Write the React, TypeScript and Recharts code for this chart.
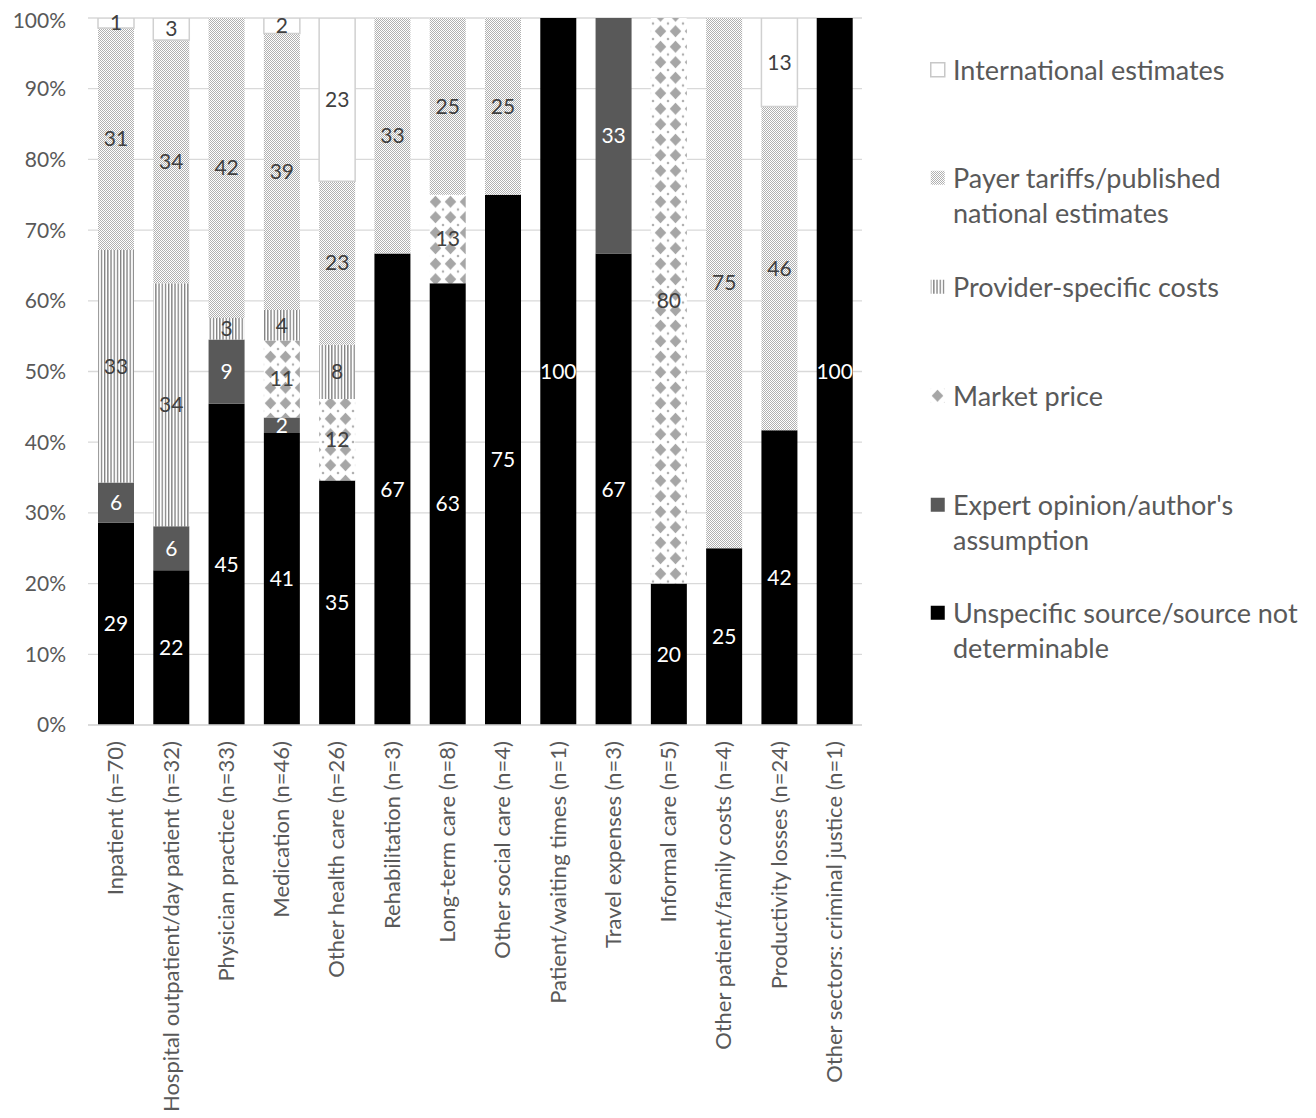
import { BarChart, Bar, XAxis, YAxis, CartesianGrid, LabelList } from 'recharts'

const categories = [
  'Inpatient (n=70)',
  'Hospital outpatient/day patient (n=32)',
  'Physician practice (n=33)',
  'Medication (n=46)',
  'Other health care (n=26)',
  'Rehabilitation (n=3)',
  'Long-term care (n=8)',
  'Other social care (n=4)',
  'Patient/waiting times (n=1)',
  'Travel expenses (n=3)',
  'Informal care (n=5)',
  'Other patient/family costs (n=4)',
  'Productivity losses (n=24)',
  'Other sectors: criminal justice (n=1)',
]

// shares in %, bottom of the stack first
const unspecific = [28.6, 21.9, 45.45, 41.3, 34.6, 66.7, 62.5, 75, 100, 66.7, 20, 25, 41.7, 100]
const expert = [5.7, 6.2, 9.09, 2.2, 0, 0, 0, 0, 0, 33.3, 0, 0, 0, 0]
const market = [0, 0, 0, 10.9, 11.5, 0, 12.5, 0, 0, 0, 80, 0, 0, 0]
const provider = [32.9, 34.4, 3.03, 4.3, 7.7, 0, 0, 0, 0, 0, 0, 0, 0, 0]
const payer = [31.4, 34.4, 42.43, 39.1, 23.1, 33.3, 25, 25, 0, 0, 0, 75, 45.8, 0]
const international = [1.4, 3.1, 0, 2.2, 23.1, 0, 0, 0, 0, 0, 0, 0, 12.5, 0]

const yTicks = [0, 10, 20, 30, 40, 50, 60, 70, 80, 90, 100]

const data = categories.map((name, i) => ({
  name,
  unspecific: unspecific[i],
  expert: expert[i],
  market: market[i],
  provider: provider[i],
  payer: payer[i],
  international: international[i],
}))

const series = [
  { key: 'unspecific', fill: '#000000', text: '#ffffff', stroke: 'none' },
  { key: 'expert', fill: '#595959', text: '#ffffff', stroke: 'none' },
  { key: 'market', fill: 'url(#pat-market)', text: '#404040', stroke: 'none' },
  { key: 'provider', fill: 'url(#pat-provider)', text: '#404040', stroke: 'none' },
  { key: 'payer', fill: 'url(#pat-payer)', text: '#404040', stroke: 'none' },
  { key: 'international', fill: '#ffffff', text: '#404040', stroke: '#d0d0d0' },
]

const legendItems = [
  { label: ['International estimates'], fill: '#ffffff', stroke: '#c8c8c8', top: 44 },
  { label: ['Payer tariffs/published', 'national estimates'], fill: 'url(#pat-payer)', stroke: 'none', top: 152 },
  { label: ['Provider-specific costs'], fill: 'url(#pat-provider)', stroke: 'none', top: 261 },
  { label: ['Market price'], fill: 'url(#pat-market)', stroke: 'none', top: 370 },
  { label: ["Expert opinion/author's", 'assumption'], fill: '#595959', stroke: 'none', top: 479 },
  { label: ['Unspecific source/source not', 'determinable'], fill: '#000000', stroke: 'none', top: 587 },
]

const FONT = 'Lato, "Open Sans", sans-serif'

function Patterns() {
  return (
    <svg width={0} height={0} style={{ position: 'absolute' }}>
      <defs>
        <pattern id="pat-payer" width={2} height={2} patternUnits="userSpaceOnUse">
          <rect width={2} height={2} fill="#ffffff" />
          <rect width={1} height={1} fill="#b0b0b0" />
          <rect x={1} y={1} width={1} height={1} fill="#b0b0b0" />
        </pattern>
        <pattern id="pat-provider" width={3.2} height={4} patternUnits="userSpaceOnUse">
          <rect width={3.2} height={4} fill="#ffffff" />
          <rect width={1.3} height={4} fill="#7f7f7f" />
        </pattern>
        <pattern id="pat-market" width={15} height={15.5} patternUnits="userSpaceOnUse">
          <rect width={15} height={15.5} fill="#ffffff" />
          <path d="M7.5 1.8 L13.3 7.75 L7.5 13.7 L1.7 7.75 Z" fill="#a6a6a6" />
          <path d="M0 0 L1.5 0 L0 1.5 Z M15 0 L13.5 0 L15 1.5 Z M0 15.5 L1.5 15.5 L0 14 Z M15 15.5 L13.5 15.5 L15 14 Z" fill="#a6a6a6" />
        </pattern>
      </defs>
    </svg>
  )
}

function makeLabel(color: string) {
  return (props: any) => {
    const { x, y, width, height, value } = props
    const v = Array.isArray(value) ? value[1] - value[0] : Number(value)
    if (!v) return null
    return (
      <text
        x={x + width / 2}
        y={y + height / 2}
        dy="0.35em"
        textAnchor="middle"
        fill={color}
        fontSize={21}
        fontFamily={FONT}
      >
        {Math.round(v)}
      </text>
    )
  }
}

function CategoryTick(props: any) {
  const { x, y, payload } = props
  return (
    <g transform={`translate(${x},${y + 8}) rotate(-90)`}>
      <text textAnchor="end" dy="0.35em" fill="#595959" fontSize={22} fontFamily={FONT}>
        {payload.value}
      </text>
    </g>
  )
}

export default function App() {
  return (
    <div style={{ position: 'relative', width: 1300, height: 1110, fontFamily: FONT }}>
      <Patterns />
      <BarChart
        width={880}
        height={1110}
        data={data}
        margin={{ top: 10, right: 26, bottom: 3, left: 0 }}
        barSize={36}
      >
        <CartesianGrid vertical={false} stroke="#d9d9d9" strokeWidth={1.3} />
        <XAxis
          dataKey="name"
          interval={0}
          height={390}
          tick={<CategoryTick />}
          tickLine={false}
          axisLine={{ stroke: '#d9d9d9', strokeWidth: 1.3 }}
        />
        <YAxis
          domain={[0, 100]}
          ticks={yTicks}
          width={80}
          tickFormatter={(v: number) => `${v}%`}
          tick={{ fontSize: 21, fill: '#595959', fontFamily: FONT }}
          tickLine={false}
          tickSize={0}
          tickMargin={22}
          axisLine={false}
          allowDataOverflow
        />
        {series.map((s) => (
          <Bar
            key={s.key}
            dataKey={s.key}
            stackId="a"
            fill={s.fill}
            stroke={s.stroke}
            strokeWidth={1.5}
            isAnimationActive={false}
          >
            <LabelList dataKey={s.key} content={makeLabel(s.text)} />
          </Bar>
        ))}
      </BarChart>
      {legendItems.map((item) => (
        <div
          key={item.label[0]}
          style={{
            position: 'absolute',
            left: 922,
            top: item.top,
            display: 'flex',
            alignItems: 'flex-start',
            color: '#595959',
            fontSize: 27,
            lineHeight: '35px',
          }}
        >
          <svg width={16} height={16} style={{ marginTop: 10, marginRight: 7, flex: 'none' }}>
            <rect
              x={0.75}
              y={0.75}
              width={14}
              height={14}
              fill={item.fill}
              stroke={item.stroke}
              strokeWidth={1.5}
            />
          </svg>
          <div>
            {item.label.map((l) => (
              <div key={l}>{l}</div>
            ))}
          </div>
        </div>
      ))}
    </div>
  )
}
